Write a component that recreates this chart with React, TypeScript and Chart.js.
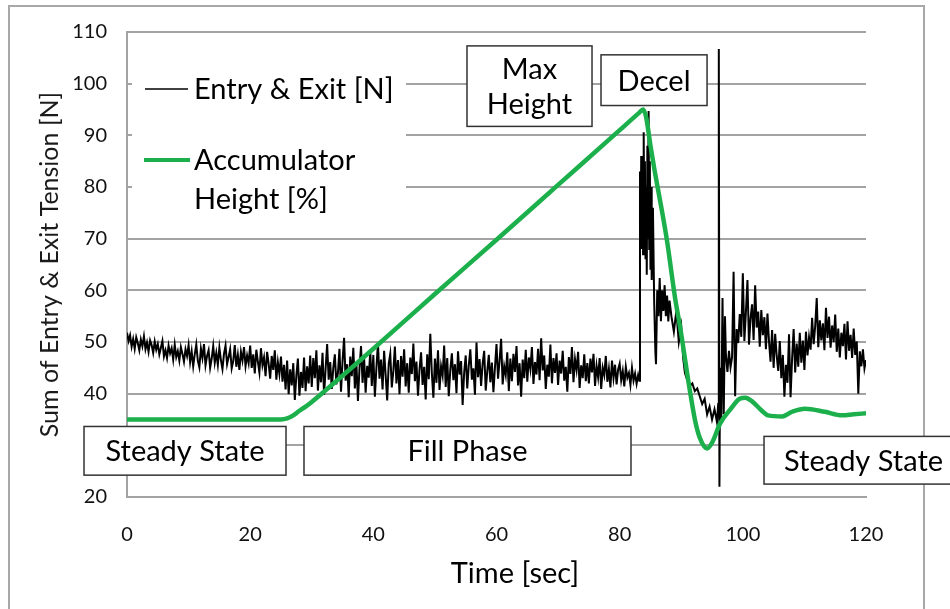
import { useEffect, useRef } from 'react';
import { Chart, registerables } from 'chart.js';

Chart.register(...registerables);

const FONT = 'Lato, "Open Sans", sans-serif';
const GREEN = '#1cb04c';
const GRID = '#a3a3a3';

const xTickStep = 20;
const xMin = 0;
const xMax = 120;
const yMin = 20;
const yMax = 110;
const yTickStep = 10;

// Accumulator height [%]
const heightTimes = [0, 10, 20, 25, 26, 27, 28, 29, 30, 32, 40, 50, 60, 70, 80, 83.2, 83.8, 84.3, 85, 85.7, 86.8, 87.7, 89, 89.8, 91.4, 92.3, 93, 94.2, 95, 96.3, 98, 99.5, 100.4, 101.5, 103, 104.1, 106.4, 108, 110.1, 113.3, 116.1, 118, 120];
const heightValues = [35, 35, 35, 35, 35.2, 35.8, 36.7, 37.5, 38.4, 40.4, 48.7, 59.3, 69.8, 80.4, 91, 94.4, 95, 93.5, 88, 83, 75.8, 69.5, 58.5, 53, 40.6, 34.5, 31.5, 29.4, 30.5, 34.2, 37, 39, 39.2, 38.5, 36.8, 35.8, 35.6, 36.5, 37.1, 36.5, 35.8, 36, 36.2];

// Entry & exit tension [N], sampled every 0.25 s from t = 0 to 83
const tensionSampleStep = 0.25;
const tensionFillStart = 0;
const tensionFill = [
  51.8, 50.2, 51.3, 49.1, 50.6, 48.7, 50.9, 49.8, 48.4, 50.5, 49.2, 51.1, 48.6, 49.9, 48.1, 50.3, 49.4, 47.9, 50.1, 48.5,
  49.6, 47.6, 48.9, 50.2, 47.2, 48.4, 46.9, 49.3, 47.8, 48.8, 46.6, 49.5, 47.1, 48.2, 46.4, 49.0, 47.7, 46.2, 48.6, 47.3,
  49.4, 46.1, 48.2, 45.3, 47.6, 49.5, 46.4, 45.1, 48.7, 46.9, 49.6, 45.5, 47.3, 48.4, 45.0, 46.8, 49.2, 46.0, 47.9, 45.6,
  48.9, 46.5, 44.8, 47.7, 49.3, 45.7, 47.1, 48.6, 44.9, 46.3, 49.4, 45.2, 47.5, 44.6, 48.1, 46.4, 49.0, 45.3, 47.4, 45.9,
  49.3, 45.0, 47.6, 43.9, 48.5, 46.2, 44.1, 48.8, 45.5, 47.0, 43.4, 48.1, 45.8, 42.9, 47.3, 44.6, 48.4, 42.7, 46.1, 43.8,
  47.2, 42.3, 45.6, 40.8, 46.4, 39.9, 44.7, 41.6, 45.9, 38.8, 43.5, 46.8, 39.6, 44.2, 41.1, 47.0, 40.5, 45.3, 42.0, 47.4,
  41.3, 46.9, 43.0, 48.4, 40.6, 45.5, 42.2, 47.9, 39.8, 44.8, 49.6, 42.7, 46.1, 40.9, 45.0, 47.6, 41.8, 44.0, 48.7, 40.4,
  46.3, 50.8, 42.5, 45.7, 39.3, 47.2, 43.4, 48.9, 41.0, 46.0, 38.6, 44.9, 49.2, 42.1, 47.0, 40.2, 45.4, 43.1, 48.1, 41.5,
  47.5, 39.4, 45.0, 49.8, 42.9, 46.6, 40.8, 48.3, 43.6, 38.7, 45.8, 47.7, 41.2, 44.4, 49.1, 42.0, 46.5, 39.9, 47.3, 43.3,
  48.6, 41.4, 45.9, 40.2, 47.0, 43.8, 49.7, 42.4, 46.2, 39.6, 44.7, 48.0, 41.7, 45.2, 38.9, 47.6, 42.8, 51.6, 44.0, 39.2,
  46.8, 42.1, 48.4, 40.7, 45.3, 43.5, 49.3, 41.3, 46.9, 39.5, 44.6, 47.8, 42.6, 45.7, 40.1, 48.2, 43.7, 46.3, 37.8, 44.1,
  47.4, 41.0, 45.5, 48.6, 42.7, 44.9, 39.8, 49.9, 43.2, 46.7, 41.5, 45.8, 48.3, 40.6, 44.3, 47.5, 42.2, 46.0, 40.3, 45.1,
  49.6, 42.9, 46.4, 50.6, 41.8, 45.3, 43.6, 48.0, 40.5, 46.8, 42.4, 47.7, 44.2, 49.2, 41.6, 45.9, 39.4, 46.6, 43.0, 48.5,
  42.3, 47.0, 44.8, 49.0, 41.9, 46.1, 43.7, 48.7, 42.6, 50.7, 44.5, 47.4, 40.9, 45.6, 43.3, 49.5, 42.0, 46.9, 44.0, 47.8,
  41.7, 46.4, 43.9, 48.3, 42.5, 45.2, 40.4, 47.1, 43.8, 49.0, 42.2, 46.7, 44.6, 48.1, 41.1, 45.5, 43.0, 47.6, 42.4, 45.9,
  42.0, 46.8, 44.1, 47.7, 41.5, 45.4, 43.2, 46.9, 40.9, 45.0, 43.6, 47.3, 42.3, 44.8, 41.2, 46.4, 43.0, 45.6, 41.8, 44.7,
  45.8, 42.6, 44.4, 41.4, 45.2, 43.1, 44.0, 41.7, 45.0, 42.5, 43.9, 41.9, 43.6,
];

// Deceleration transient (irregular sampling)
const tensionTransientTimes = [83.2, 83.3, 83.4, 83.5, 83.6, 83.7, 83.8, 83.9, 84.0, 84.1, 84.2, 84.3, 84.4, 84.5, 84.6, 84.7, 84.8, 84.9, 85.0, 85.1, 85.2, 85.4, 85.6, 85.8, 85.9, 86.1, 86.3, 86.5, 86.7, 86.9, 87.1, 87.3, 87.5, 87.7, 87.9, 88.1, 88.4, 88.8, 89.2, 89.6, 90.0, 90.3, 90.6, 91.0, 91.4, 91.8, 92.2, 92.6, 93.0, 93.4, 93.8, 94.2, 94.6, 95.0, 95.4, 95.8, 96.0, 96.1, 96.2, 96.3, 96.5, 96.7, 96.9, 97.1];
const tensionTransientValues = [42.5, 83, 70, 86, 68, 82, 67, 90.6, 72, 85, 66, 80, 63, 88, 70, 94.7, 68, 85, 64, 80, 62, 76, 58, 48, 45.7, 60, 55, 62.4, 54, 60, 56, 61, 55, 59, 54, 58, 55, 52, 56, 50, 53, 47, 44, 42.5, 41.5, 42, 40.5, 41, 39.5, 38, 39, 36, 37.5, 35, 37, 34.5, 38, 106.7, 22, 45, 35, 58.5, 36, 55];

// Recovery, sampled every 0.25 s from t = 97.25 to 120
const tensionRecoveryStart = 97.25;
const tensionRecovery = [
  47.5, 44.2, 48.3, 45.1, 47.0, 63.6, 39.5, 52.5, 49.8, 55.4, 51.0, 63.3,
  50.2, 55.8, 62.0, 49.5, 54.6, 57.3, 50.4, 61.0, 52.8, 55.9, 49.1, 56.2,
  51.3, 54.8, 48.6, 55.5, 50.1, 46.2, 52.3, 45.0, 51.6, 47.3, 44.4, 50.2,
  43.0, 47.5, 39.4, 45.6, 42.1, 51.5, 39.3, 46.8, 52.5, 44.1, 49.7, 45.2,
  51.8, 46.0, 50.3, 44.6, 52.0, 47.4, 50.9, 48.5, 54.7, 49.6, 53.1, 58.5,
  49.0, 54.2, 50.3, 53.6, 48.4, 56.6, 50.8, 54.9, 48.9, 53.2, 50.0, 55.3,
  48.1, 52.6, 47.0, 51.8, 49.2, 53.5, 46.6, 54.0, 48.3, 51.4, 46.9, 52.6,
  47.5, 50.1, 40.0, 48.2, 45.3, 48.6, 44.9, 46.5,
];

const seriesLabels = ['Entry & Exit [N]', ['Accumulator', 'Height [%]']];
const xTitle = 'Time [sec]';
const yTitle = 'Sum of Entry & Exit Tension [N]';

type Note = { lines: string[]; x0: number; x1: number; y0: number; y1: number; cx?: number };
const notes: Note[] = [
  { lines: ['Steady State'], x0: -6.98, x1: 25.82, y0: 33.65, y1: 24.23 },
  { lines: ['Fill Phase'], x0: 28.74, x1: 81.84, y0: 33.65, y1: 24.23 },
  { lines: ['Max', 'Height'], x0: 55.21, x1: 75.51, y0: 107.31, y1: 91.73 },
  { lines: ['Decel'], x0: 76.97, x1: 94.19, y0: 105.58, y1: 95.77 },
  { lines: ['Steady State'], x0: 103.44, x1: 140, y0: 31.73, y1: 22.5, cx: 119.6 },
];

function buildTension() {
  const pts: { x: number; y: number }[] = [];
  tensionFill.forEach((v, i) => pts.push({ x: tensionFillStart + i * tensionSampleStep, y: v }));
  tensionTransientTimes.forEach((t, i) => pts.push({ x: t, y: tensionTransientValues[i] }));
  tensionRecovery.forEach((v, i) => pts.push({ x: tensionRecoveryStart + i * tensionSampleStep, y: v }));
  return pts;
}

const overlayPlugin = {
  id: 'overlay',
  beforeDraw(chart: any) {
    const { ctx, width, height } = chart;
    ctx.save();
    ctx.fillStyle = '#ffffff';
    ctx.fillRect(0, 0, width, height);
    ctx.strokeStyle = '#a8a8a8';
    ctx.lineWidth = 2;
    ctx.strokeRect(9, 6, 915, height + 20);
    ctx.restore();
  },
  afterDraw(chart: any) {
    const { ctx, chartArea: ca, scales } = chart;
    const xs = scales.x;
    const ys = scales.y;
    ctx.save();

    // Legend
    const lx = ca.left;
    const ly = ca.top;
    ctx.fillStyle = '#ffffff';
    ctx.fillRect(lx + 5, ly + 29, 274, 170);
    ctx.font = `29px ${FONT}`;
    ctx.textBaseline = 'middle';
    ctx.textAlign = 'left';
    const ds = chart.data.datasets;
    ctx.strokeStyle = ds[0].borderColor;
    ctx.lineWidth = 1.5;
    ctx.beginPath();
    ctx.moveTo(lx + 18, ly + 57);
    ctx.lineTo(lx + 61, ly + 57);
    ctx.stroke();
    ctx.fillStyle = '#000';
    ctx.fillText(seriesLabels[0] as string, lx + 67, ly + 58);
    ctx.strokeStyle = ds[1].borderColor;
    ctx.lineWidth = 4;
    ctx.beginPath();
    ctx.moveTo(lx + 17, ly + 128);
    ctx.lineTo(lx + 63, ly + 128);
    ctx.stroke();
    const l2 = seriesLabels[1] as string[];
    ctx.fillText(l2[0], lx + 67, ly + 129);
    ctx.fillText(l2[1], lx + 67, ly + 168);

    // Annotation boxes
    for (const n of notes) {
      const px0 = xs.getPixelForValue(n.x0);
      const px1 = xs.getPixelForValue(n.x1);
      const py0 = ys.getPixelForValue(n.y0);
      const py1 = ys.getPixelForValue(n.y1);
      ctx.fillStyle = '#ffffff';
      ctx.fillRect(px0, py0, px1 - px0, py1 - py0);
      ctx.strokeStyle = '#333';
      ctx.lineWidth = 1.5;
      ctx.strokeRect(px0, py0, px1 - px0, py1 - py0);
      const cx = n.cx !== undefined ? xs.getPixelForValue(n.cx) : (px0 + px1) / 2;
      const cy = (py0 + py1) / 2;
      const lh = 35;
      ctx.fillStyle = '#000';
      ctx.textAlign = 'center';
      ctx.textBaseline = 'middle';
      ctx.font = `29px ${FONT}`;
      n.lines.forEach((s, i) => {
        ctx.fillText(s, cx, cy + (i - (n.lines.length - 1) / 2) * lh + 1);
      });
    }

    // X axis title
    ctx.fillStyle = '#000';
    ctx.font = `29px ${FONT}`;
    ctx.textAlign = 'center';
    ctx.textBaseline = 'middle';
    ctx.fillText(xTitle, xs.getPixelForValue(63), 574);
    ctx.restore();
  },
};

export default function App() {
  const ref = useRef<HTMLCanvasElement | null>(null);
  useEffect(() => {
    if (!ref.current) return;
    const chart = new Chart(ref.current, {
      type: 'line',
      data: {
        datasets: [
          {
            label: seriesLabels[0] as string,
            data: buildTension(),
            borderColor: '#000000',
            borderWidth: 2,
            pointRadius: 0,
            tension: 0,
            order: 2,
          },
          {
            label: (seriesLabels[1] as string[]).join(' '),
            data: heightTimes.map((t, i) => ({ x: t, y: heightValues[i] })),
            borderColor: GREEN,
            borderWidth: 4.5,
            pointRadius: 0,
            cubicInterpolationMode: 'monotone',
            order: 1,
          },
        ],
      },
      options: {
        animation: false,
        responsive: false,
        events: [],
        layout: { padding: { left: 0, top: 29, right: 84, bottom: 0 } },
        plugins: { legend: { display: false }, tooltip: { enabled: false } },
        scales: {
          x: {
            type: 'linear',
            min: xMin,
            max: xMax,
            ticks: { stepSize: xTickStep, padding: 26, color: '#111', font: { family: FONT, size: 20 } },
            grid: { display: false, drawTicks: false },
            border: { display: true, color: GRID, width: 2 },
            afterFit: (s: any) => { s.height = 112; },
          },
          y: {
            type: 'linear',
            min: yMin,
            max: yMax,
            ticks: { stepSize: yTickStep, padding: 20, color: '#111', font: { family: FONT, size: 20 } },
            grid: { color: GRID, lineWidth: 2, drawTicks: false },
            border: { display: true, color: GRID, width: 2 },
            title: { display: true, text: yTitle, color: '#1a1a1a', font: { family: FONT, size: 25 }, padding: { top: 35, bottom: 0 } },
            afterFit: (s: any) => { s.width = 127; },
          },
        },
      },
      plugins: [overlayPlugin],
    } as any);
    return () => chart.destroy();
  }, []);
  return (
    <div style={{ position: 'fixed', left: 0, top: 0, width: 950, height: 609, background: '#fff' }}>
      <canvas ref={ref} width={950} height={609} style={{ display: 'block' }} />
    </div>
  );
}
